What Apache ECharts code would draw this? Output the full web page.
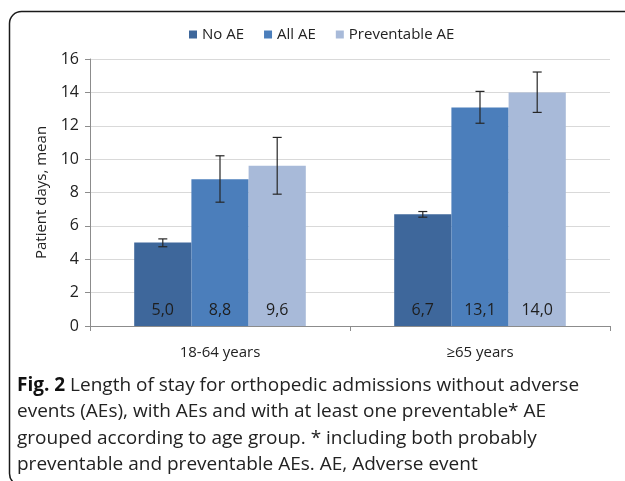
<!DOCTYPE html>
<html>
<head>
<meta charset="utf-8">
<script src="https://cdn.jsdelivr.net/npm/echarts@6/dist/echarts.min.js"></script>
<style>
html,body{margin:0;padding:0;background:#fff;}
#chart{width:625px;height:481px;}
</style>
</head>
<body>
<div id="chart"></div>
<script>
const categories = ['18-64 years', '≥65 years'];
const seriesNames = ['No AE', 'All AE', 'Preventable AE'];
const noAEValues = [5.0, 6.7];
const allAEValues = [8.8, 13.1];
const prevAEValues = [9.6, 14.0];
const noAELow = [4.75, 6.52];
const noAEHigh = [5.22, 6.86];
const allAELow = [7.42, 12.15];
const allAEHigh = [10.2, 14.06];
const prevAELow = [7.9, 12.8];
const prevAEHigh = [11.3, 15.22];
const yTicks = [0, 2, 4, 6, 8, 10, 12, 14, 16];

const colors = ['#3E679B', '#4B7EBB', '#A8BAD9'];
const values = [noAEValues, allAEValues, prevAEValues];
const lows = [noAELow, allAELow, prevAELow];
const highs = [noAEHigh, allAEHigh, prevAEHigh];
const barFrac = 0.22;
const font = 'Open Sans';

const series = [];
values.forEach((vals, i) => {
  series.push({
    name: seriesNames[i],
    type: 'bar',
    data: vals,
    barWidth: (barFrac * 100) + '%',
    barGap: '0%',
    itemStyle: { color: colors[i] },
    label: {
      show: true,
      position: 'insideBottom',
      distance: 8,
      fontFamily: font,
      fontSize: 16,
      color: '#1e1e1e',
      formatter: p => p.value.toFixed(1).replace('.', ',')
    },
    z: 2
  });
});
values.forEach((vals, i) => {
  series.push({
    type: 'custom',
    name: seriesNames[i] + ' err',
    data: categories.map((c, k) => [k, lows[i][k], highs[i][k]]),
    encode: { x: 0, y: [1, 2] },
    z: 5,
    silent: true,
    renderItem: (params, api) => {
      const k = api.value(0);
      const bw = api.size([1, 0])[0];
      const off = (i - 1) * bw * barFrac;
      const lo = api.coord([k, api.value(1)]);
      const hi = api.coord([k, api.value(2)]);
      const x = lo[0] + off;
      const cap = 4.5;
      const st = { stroke: '#262626', lineWidth: 1.2 };
      return {
        type: 'group',
        children: [
          { type: 'line', shape: { x1: x, y1: lo[1], x2: x, y2: hi[1] }, style: st },
          { type: 'line', shape: { x1: x - cap, y1: lo[1], x2: x + cap, y2: lo[1] }, style: st },
          { type: 'line', shape: { x1: x - cap, y1: hi[1], x2: x + cap, y2: hi[1] }, style: st }
        ]
      };
    }
  });
});

const chart = echarts.init(document.getElementById('chart'), null, { renderer: 'canvas' });
chart.setOption({
  animation: false,
  textStyle: { fontFamily: font },
  legend: {
    data: seriesNames,
    top: 22,
    left: 184,
    itemWidth: 8,
    itemHeight: 8,
    itemGap: 20,
    icon: 'rect',
    textStyle: { fontFamily: font, fontSize: 15, color: '#222' }
  },
  grid: { left: 90, right: 15, top: 59, bottom: 155, containLabel: false },
  xAxis: {
    type: 'category',
    data: categories,
    axisLine: { lineStyle: { color: '#8c8c8c', width: 1 } },
    axisTick: { show: true, length: 5, lineStyle: { color: '#8c8c8c' } },
    axisLabel: { fontFamily: font, fontSize: 15, color: '#222', margin: 19 },
    splitLine: { show: false }
  },
  yAxis: {
    type: 'value',
    min: 0,
    max: 16,
    interval: 2,
    name: 'Patient days, mean',
    nameLocation: 'middle',
    nameGap: 41,
    nameTextStyle: { fontFamily: font, fontSize: 15, color: '#222' },
    axisLine: { show: true, lineStyle: { color: '#8c8c8c', width: 1 } },
    axisTick: { show: true, length: 5, lineStyle: { color: '#8c8c8c' } },
    axisLabel: { fontFamily: font, fontSize: 16, color: '#222', margin: 11,
      formatter: v => yTicks.includes(v) ? String(v) : '' },
    splitLine: { lineStyle: { color: '#d9d9d9', width: 1 } }
  },
  series: series,
  graphic: [
    {
      type: 'rect',
      shape: { x: 9.5, y: 11.5, width: 700, height: 474, r: 12 },
      style: { fill: 'none', stroke: '#1a1a1a', lineWidth: 1.5 },
      silent: true,
      z: -1
    },
    {
      type: 'text',
      left: 17,
      top: 372,
      style: {
        text: '{b|Fig. 2} Length of stay for orthopedic admissions without adverse\nevents (AEs), with AEs and with at least one preventable* AE\ngrouped according to age group. * including both probably\npreventable and preventable AEs. AE, Adverse event',
        fontFamily: font,
        fontSize: 19,
        lineHeight: 26.5,
        fill: '#222',
        rich: {
          b: { fontFamily: font, fontSize: 19, fontWeight: 'bold', fill: '#111', lineHeight: 26.5 }
        }
      }
    }
  ]
});
</script>
</body>
</html>
